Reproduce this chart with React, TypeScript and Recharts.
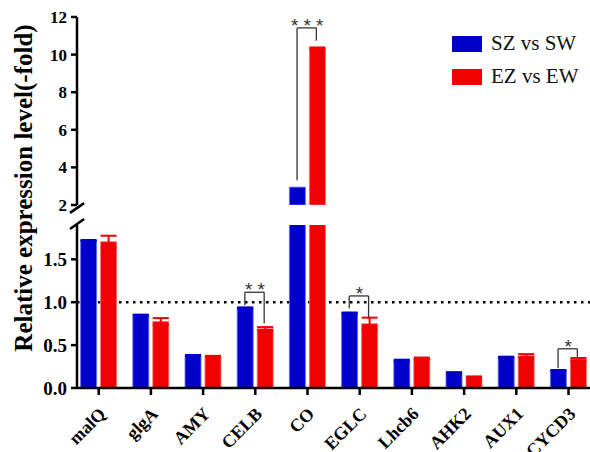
import React from 'react'
import { BarChart, Bar, XAxis, YAxis, ErrorBar, ReferenceLine, Legend } from 'recharts'

// genes on the x axis
const genes = ['malQ', 'glgA', 'AMY', 'CELB', 'CO', 'EGLC', 'Lhcb6', 'AHK2', 'AUX1', 'CYCD3']

// relative expression (fold)
const szVsSw = [1.72, 0.85, 0.38, 0.935, 2.95, 0.875, 0.325, 0.18, 0.36, 0.205]
const szErr = [0.005, 0.005, 0.005, 0.005, 0.02, 0.005, 0.005, 0.005, 0.005, 0.005]
const ezVsEw = [1.705, 0.775, 0.37, 0.69, 10.35, 0.75, 0.345, 0.13, 0.375, 0.335]
const ezErr = [0.07, 0.04, 0.005, 0.02, 0.03, 0.07, 0.01, 0.005, 0.02, 0.015]

// broken y axis
const lowerTicks = [0, 0.5, 1.0, 1.5]
const upperTicks = [2, 4, 6, 8, 10, 12]
const lowerMax = 1.9
const breakAt = 2
const upperMax = 12

// significance brackets
const sigGenes = ['CELB', 'CO', 'EGLC', 'CYCD3']
const sigLabels = ['**', '***', '*', '*']
const sigTop = [1.116, 11.42, 1.073, 0.457]
const sigLeftEnd = [0.965, 3.32, 0.93, 0.229]
const sigRightEnd = [0.756, 10.74, 0.826, 0.36]

const BLUE = '#0000C8'
const RED = '#F00000'
const SERIF = '"Liberation Serif", "Times New Roman", serif'

// bars above the break are clipped in the lower panel, so drop their error bars there
const lowerData = genes.map((g, i) => ({
  gene: g,
  pos: i,
  sz: szVsSw[i],
  szErr: szVsSw[i] > lowerMax ? null : szErr[i],
  ez: ezVsEw[i],
  ezErr: ezVsEw[i] > lowerMax ? null : ezErr[i],
}))

const upperData = genes.map((g, i) => ({
  gene: g,
  pos: i,
  sz: szVsSw[i] > breakAt ? szVsSw[i] : null,
  ez: ezVsEw[i] > breakAt ? ezVsEw[i] : null,
  ezErr: ezVsEw[i] > breakAt ? ezErr[i] : null,
}))

const W = 590
const H = 452
// the first band starts a little left of the y axis line
const xPad = { left: -4.4, right: -4.6 }
const band = 52.2
const numDomain = [-0.5 - xPad.left / band, genes.length - 0.5 + xPad.right / band]
const axisStroke = { stroke: '#000', strokeWidth: 2.5 }

const GeneTick = (props: any) => {
  const { x, y, payload } = props
  return (
    <g transform={`translate(${x},${y})`}>
      <text
        x={8}
        y={18}
        textAnchor="end"
        transform="rotate(-45, 8, 18)"
        fontFamily={SERIF}
        fontWeight="bold"
        fontSize={18}
        fill="#000"
      >
        {payload.value}
      </text>
    </g>
  )
}

const YTitle = () => (
  <text
    transform="translate(32,188) rotate(-90)"
    textAnchor="middle"
    fontFamily={SERIF}
    fontWeight="bold"
    fontSize={25}
    fill="#000"
  >
    Relative expression level(-fold)
  </text>
)

const Stars = (text: string) => (props: any) => {
  const vb = props.viewBox || {}
  const cx = vb.x + (vb.width || 0) / 2
  return (
    <text
      x={cx + 3}
      y={vb.y + 4}
      textAnchor="middle"
      fontFamily='"Liberation Sans", Arial, sans-serif'
      fontSize={19}
      letterSpacing={5}
      fill="#333"
    >
      {text}
    </text>
  )
}

const renderLegend = (props: any) => (
  <div>
    {(props.payload || []).map((item: any) => (
      <div key={item.value} style={{ display: 'flex', alignItems: 'center', height: 33 }}>
        <span
          style={{
            display: 'inline-block',
            width: 30,
            height: 16,
            background: item.color,
            marginRight: 9,
          }}
        />
        <span style={{ fontFamily: SERIF, fontSize: 21, color: '#111' }}>{item.value}</span>
      </div>
    ))}
  </div>
)

const brackets = (chart: 'upper' | 'lower') =>
  sigGenes.map((g, k) => {
    const i = genes.indexOf(g)
    const inUpper = sigTop[k] > breakAt
    if ((chart === 'upper') !== inUpper) return null
    const xl = i - 0.2
    const xr = i + 0.17
    const line = { stroke: '#333', strokeWidth: 1.3, xAxisId: 'num', ifOverflow: 'visible' as const }
    return (
      <React.Fragment key={g}>
        <ReferenceLine {...line} segment={[{ x: xl, y: sigLeftEnd[k] }, { x: xl, y: sigTop[k] }]} />
        <ReferenceLine {...line} segment={[{ x: xr, y: sigRightEnd[k] }, { x: xr, y: sigTop[k] }]} />
        <ReferenceLine
          {...line}
          segment={[{ x: xl, y: sigTop[k] }, { x: xr, y: sigTop[k] }]}
          label={Stars(sigLabels[k])}
        />
      </React.Fragment>
    )
  })

export default function App() {
  return (
    <div style={{ position: 'relative', width: W, height: H, overflow: 'hidden', background: '#fff' }}>
      <style>{'body{margin:0}'}</style>

      {/* upper part of the broken axis: 2 - 12 */}
      <div style={{ position: 'absolute', left: 0, top: 0 }}>
        <BarChart
          width={W}
          height={H}
          data={upperData}
          margin={{ top: 17, right: 0, left: 0, bottom: H - 205 }}
          barSize={16}
          barGap={4}
        >
          <XAxis dataKey="gene" hide padding={xPad} />
          <XAxis xAxisId="num" dataKey="pos" type="number" domain={numDomain} allowDataOverflow hide />
          <YAxis
            width={77}
            domain={[breakAt, upperMax]}
            ticks={upperTicks}
            interval={0}
            allowDataOverflow
            tickSize={6}
            tickMargin={4}
            axisLine={axisStroke}
            tickLine={axisStroke}
            tick={{ fill: '#000', fontSize: 17, fontWeight: 'bold', fontFamily: SERIF }}
          />
          <Legend
            layout="vertical"
            align="center"
            verticalAlign="middle"
            itemSorter={(item: any) => (item.dataKey === 'sz' ? 0 : 1)}
            content={renderLegend}
            wrapperStyle={{ left: 452, top: 27, width: 138 }}
          />
          <Bar dataKey="sz" name="SZ vs SW" fill={BLUE} stroke="#6a6aff" strokeWidth={0.8} isAnimationActive={false} />
          <Bar dataKey="ez" name="EZ vs EW" fill={RED} stroke="#ff7070" strokeWidth={0.8} isAnimationActive={false}>
            <ErrorBar dataKey="ezErr" width={8} stroke={RED} strokeWidth={2} />
          </Bar>
          {brackets('upper')}
          {/* axis break mark */}
          <ReferenceLine
            xAxisId="num"
            ifOverflow="visible"
            stroke="#000"
            strokeWidth={2.5}
            segment={[{ x: -0.55, y: 1.58 }, { x: -0.28, y: 2.1 }]}
          />
        </BarChart>
      </div>

      {/* lower part of the broken axis: 0 - 1.9 */}
      <div style={{ position: 'absolute', left: 0, top: 0 }}>
        <BarChart
          width={W}
          height={H}
          data={lowerData}
          margin={{ top: 225, right: 0, left: 0, bottom: 0 }}
          barSize={16}
          barGap={4}
        >
          <XAxis
            dataKey="gene"
            height={64}
            padding={xPad}
            interval={0}
            tickSize={7}
            tickMargin={2}
            axisLine={axisStroke}
            tickLine={axisStroke}
            tick={<GeneTick />}
          />
          <XAxis xAxisId="num" dataKey="pos" type="number" domain={numDomain} allowDataOverflow hide />
          <YAxis
            width={77}
            domain={[0, lowerMax]}
            ticks={lowerTicks}
            interval={0}
            allowDataOverflow
            tickSize={6}
            tickMargin={4}
            axisLine={axisStroke}
            tickLine={axisStroke}
            tickFormatter={(v: number) => v.toFixed(1)}
            tick={{ fill: '#000', fontSize: 19, fontWeight: 'bold', fontFamily: SERIF }}
            label={<YTitle />}
          />
          <ReferenceLine y={1} stroke="#000" strokeWidth={2.5} strokeDasharray="2.5 4.5" zIndex={100} />
          <Bar dataKey="sz" name="SZ vs SW" fill={BLUE} stroke="#6a6aff" strokeWidth={0.8} isAnimationActive={false}>
            <ErrorBar dataKey="szErr" width={8} stroke={BLUE} strokeWidth={2} />
          </Bar>
          <Bar dataKey="ez" name="EZ vs EW" fill={RED} stroke="#ff7070" strokeWidth={0.8} isAnimationActive={false}>
            <ErrorBar dataKey="ezErr" width={8} stroke={RED} strokeWidth={2} />
          </Bar>
          {brackets('lower')}
          <ReferenceLine
            xAxisId="num"
            ifOverflow="visible"
            stroke="#000"
            strokeWidth={2.5}
            segment={[{ x: -0.55, y: 1.853 }, { x: -0.28, y: 1.97 }]}
          />
        </BarChart>
      </div>
    </div>
  )
}
